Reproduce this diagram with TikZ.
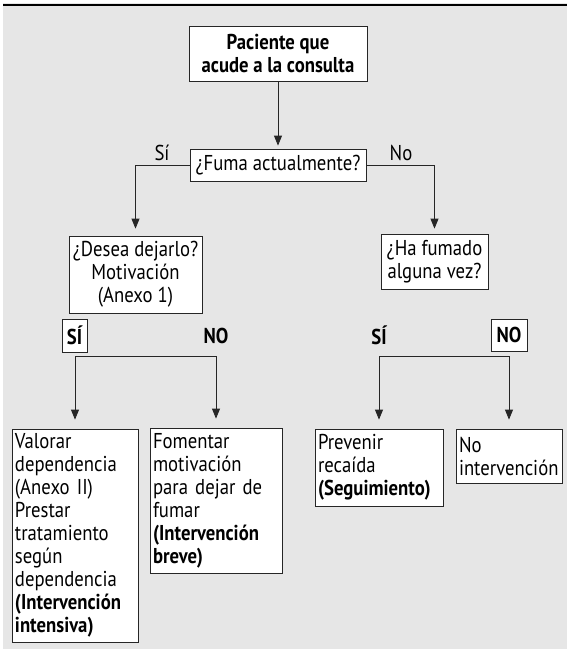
\documentclass[tikz,border=0pt]{standalone}
\usepackage{fontspec}
\setmainfont[FakeStretch=0.87]{PT Sans}
\usetikzlibrary{arrows.meta}
\definecolor{fondo}{HTML}{E6E6E6}
\newcommand{\letra}{\fontsize{21.5}{23}\selectfont}
\tikzset{
	caja/.style={draw=black!85, line width=0.8pt, fill=white, inner sep=0pt, align=center, font=\letra},
	cajatexto/.style={caja, align=left, inner xsep=3pt},
	rotulo/.style={font=\letra\bfseries, inner sep=1pt},
	linea/.style={line width=0.8pt, draw=black!85},
	flecha/.style={linea, -{Triangle[length=10pt,width=8pt]}}
}

\begin{document}
\begin{tikzpicture}[x=1pt,y=-1pt]
			%%%%% START %%%%%
			
			\fill[white] (0, 0) rectangle (567, 649);
			\fill[fondo] (3, 3) rectangle (567, 649);
			\fill[black] (3, 3.5) rectangle (567, 6.3);
			\useasboundingbox (0, 0) rectangle (567, 649);
			
			\node[caja, font=\letra\bfseries, minimum width=178pt, minimum height=55pt] (paciente) at (278, 53.5) {Paciente que\\acude a la consulta};
			\node[caja, minimum width=176pt, minimum height=32pt] (fuma) at (278, 165) {¿Fuma actualmente?};
			\node[font=\letra, inner sep=1pt] (si0) at (162, 153) {Sí};
			\node[font=\letra, inner sep=1pt] (no0) at (401, 153) {No};
			
			\node[caja, minimum width=133pt, minimum height=77pt] (desea) at (135.5, 274.5) {¿Desea dejarlo?\\Motivación\\(Anexo 1)};
			\node[caja, minimum width=107pt, minimum height=55pt] (fumado) at (434.5, 261.5) {¿Ha fumado\\alguna vez?};
			
			\node[caja, rotulo, minimum width=25pt, minimum height=33pt] (si1) at (74.5, 335.5) {SÍ};
			\node[rotulo] (no1) at (216, 336) {NO};
			\node[rotulo] (si2) at (379, 335) {SÍ};
			\node[caja, rotulo, minimum width=36pt, minimum height=32pt] (no2) at (509, 335) {NO};
			
			\coordinate (ramaA) at (75, 356);
			\coordinate (ramaB) at (379, 356);
			
			\node[cajatexto, text width=120pt, minimum height=213pt] (valorar) at (75, 535.5) {Valorar\\dependencia\\(Anexo II)\\Prestar\\tratamiento\\según\\dependencia\\\textbf{(Intervención}\\\textbf{intensiva)}};
			\node[cajatexto, text width=126pt, minimum height=145pt] (fomentar) at (216, 500.5) {Fomentar\\motivación\\para dejar de\\fumar\\\textbf{(Intervención}\\\textbf{breve)}};
			\node[cajatexto, text width=122pt, minimum height=77pt] (prevenir) at (379, 467.5) {Prevenir\\recaída\\\textbf{(Seguimiento)}};
			\node[cajatexto, text width=100pt, minimum height=54pt] (nointer) at (509, 456) {No\\intervención};
			
			\draw[flecha, shorten >=3pt] (paciente) -- (fuma);
			\draw[flecha, shorten >=7pt] (fuma) -| (desea);
			\draw[flecha, shorten >=5pt] (fuma) -| (fumado);
			
			\draw[linea] (valorar.north |- ramaA) -- (fomentar.north |- ramaA);
			\draw[flecha, shorten >=9pt] (valorar.north |- ramaA) -- (valorar);
			\draw[flecha, shorten >=9pt] (fomentar.north |- ramaA) -- (fomentar);
			
			\draw[linea] (prevenir.north |- ramaB) -- (nointer.north |- ramaB);
			\draw[flecha, shorten >=9pt] (prevenir.north |- ramaB) -- (prevenir);
			\draw[flecha, shorten >=9pt] (nointer.north |- ramaB) -- (nointer);
			
			%%%%% END %%%%%
\end{tikzpicture}
\end{document}
